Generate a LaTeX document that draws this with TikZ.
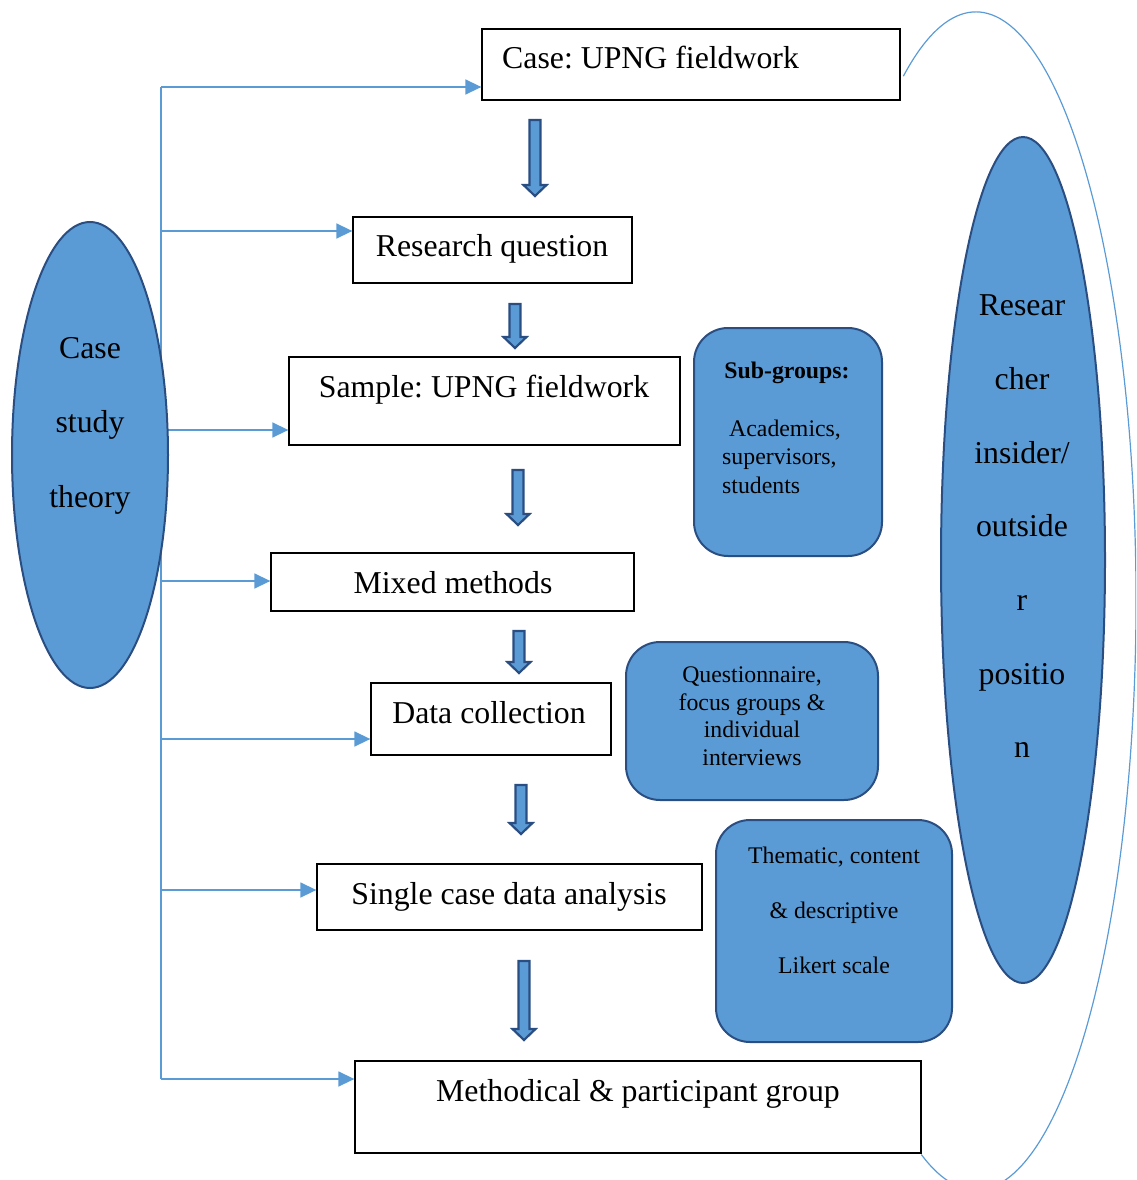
\documentclass[tikz,border=0pt]{standalone}
\usepackage{fontspec}
\setmainfont{Liberation Serif}
\frenchspacing
\usetikzlibrary{arrows.meta}
\definecolor{accent}{RGB}{91,155,213}
\definecolor{edge}{RGB}{42,78,130}
\tikzset{
  box/.style={draw=black, line width=1.3pt, fill=white, rectangle, inner sep=0pt},
  rbox/.style={draw=edge, line width=2pt, fill=accent, rectangle, rounded corners=34pt, inner sep=0pt},
  conn/.style={draw=accent, line width=1.5pt, -{Triangle[length=16pt,width=15pt]}},
  spine/.style={draw=accent, line width=1.5pt},
  big/.style={font=\fontsize{31.8}{37}\selectfont, inner sep=0pt},
  small/.style={font=\fontsize{23.8}{28}\selectfont, inner sep=0pt},
  blockarr/.style={fill=accent, draw=edge, line width=2.2pt, line join=miter},
}
\newcommand{\dnarrow}[3]{\filldraw[blockarr] (#1-5.5,#2) -- (#1+5.5,#2) -- (#1+5.5,#3-11) -- (#1+11.5,#3-11) -- (#1,#3) -- (#1-11.5,#3-11) -- (#1-5.5,#3-11) -- cycle;}
\begin{document}
\begin{tikzpicture}[x=1pt,y=-1pt]
\useasboundingbox (0,0) rectangle (1136,1180);

% big outline arc on the right
\begin{scope}
\clip (0,0) rectangle (1136,1180);
\draw[accent, line width=1.2pt] (976,601) ++(-117:160 and 589) arc[start angle=-117, end angle=110, x radius=160, y radius=589];
\end{scope}

% boxes
\node[box, minimum width=418, minimum height=71] (case) at (691,64.5) {};
\node[box, minimum width=279, minimum height=66] (rq) at (492.5,250) {};
\node[box, minimum width=391, minimum height=88] (sample) at (484.5,401) {};
\node[box, minimum width=363, minimum height=58] (mixed) at (452.5,582) {};
\node[box, minimum width=240, minimum height=72] (data) at (491,719) {};
\node[box, minimum width=385, minimum height=66] (single) at (509.5,897) {};
\node[box, minimum width=566, minimum height=92] (meth) at (638,1107) {};

\node[big, anchor=base west] at (502,69) {Case: UPNG fieldwork};
\node[big, anchor=base] at (492,256) {Research question};
\node[big, anchor=base] at (484,397) {Sample: UPNG fieldwork};
\node[big, anchor=base] at (453,593) {Mixed methods};
\node[big, anchor=base] at (489,723) {Data collection};
\node[big, anchor=base] at (509,904) {Single case data analysis};
\node[big, anchor=base] at (638,1101) {Methodical \& participant group};

% left connectors
\coordinate (s1) at (161,87);
\coordinate (s7) at (161,1079);
\draw[spine] (s1) -- (s7);
\draw[conn] (s1) -- (s1 -| case.west);
\coordinate (s2) at (161,231);
\draw[conn] (s2) -- (s2 -| rq.west);
\coordinate (s3) at (161,430);
\draw[conn] (s3) -- (s3 -| sample.west);
\coordinate (s4) at (161,581);
\draw[conn] (s4) -- (s4 -| mixed.west);
\coordinate (s5) at (161,739);
\draw[conn] (s5) -- (s5 -| data.west);
\coordinate (s6) at (161,890);
\draw[conn] (s6) -- (s6 -| single.west);
\draw[conn] (s7) -- (s7 -| meth.west);

% left ellipse
\filldraw[draw=edge, line width=2pt, fill=accent] (90,455) ellipse[x radius=78, y radius=233];
\node[big, anchor=base] at (90,358) {Case};
\node[big, anchor=base] at (90,432) {study};
\node[big, anchor=base] at (90,507) {theory};

% right ellipse
\filldraw[draw=edge, line width=2pt, fill=accent] (1023,560) ellipse[x radius=82, y radius=423];
\node[big, anchor=base] at (1022,315) {Resear};
\node[big, anchor=base] at (1022,389) {cher};
\node[big, anchor=base] at (1022,463) {insider/};
\node[big, anchor=base] at (1022,536) {outside};
\node[big, anchor=base] at (1022,610) {r};
\node[big, anchor=base] at (1022,684) {positio};
\node[big, anchor=base] at (1022,757) {n};

% rounded blue boxes
\node[rbox, minimum width=188, minimum height=228] (sub) at (788,442) {};
\node[small, anchor=base, font=\fontsize{23.8}{28}\selectfont\bfseries] at (787,378) {Sub-groups:};
\node[small, anchor=base west] at (729,436) {Academics,};
\node[small, anchor=base west] at (722,464) {supervisors,};
\node[small, anchor=base west] at (722,493) {students};

\node[rbox, minimum width=252, minimum height=158] (quest) at (752,721) {};
\node[small, anchor=base] at (752,682) {Questionnaire,};
\node[small, anchor=base] at (752,710) {focus groups \&};
\node[small, anchor=base] at (752,737) {individual};
\node[small, anchor=base] at (752,765) {interviews};

\node[rbox, minimum width=236, minimum height=222] (them) at (834,931) {};
\node[small, anchor=base] at (834,863) {Thematic, content};
\node[small, anchor=base] at (834,918) {\& descriptive};
\node[small, anchor=base] at (834,973) {Likert scale};

% block arrows
\dnarrow{535}{120}{196}
\dnarrow{515}{304}{348}
\dnarrow{518}{470}{525}
\dnarrow{519}{631}{673}
\dnarrow{521}{785}{834}
\dnarrow{524}{961}{1040}
\end{tikzpicture}
\end{document}
